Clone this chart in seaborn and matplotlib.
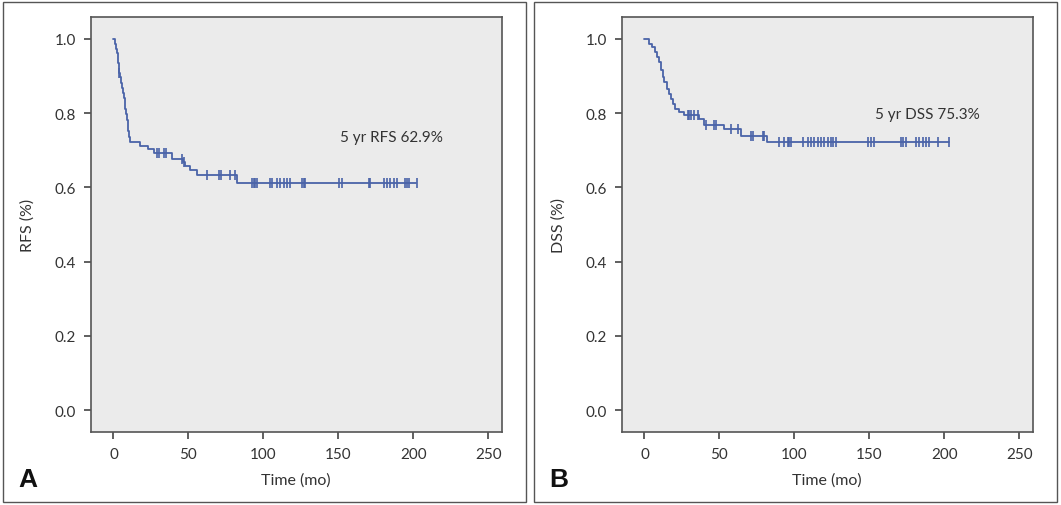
import numpy as np
import pandas as pd
import matplotlib.pyplot as plt
from matplotlib.patches import Rectangle
import seaborn as sns

# RFS (panel A): step times and survival after each step
rfs_time = [0, 0.7, 1.4, 2.1, 2.7, 3.2, 3.9, 4.6, 5.2, 5.8, 6.4, 6.9, 7.4, 7.9, 8.4,
            8.9, 9.4, 9.9, 10.4, 10.9, 17.5, 23, 27, 39, 46.5, 47.5, 51, 55.5, 82.5, 202]
rfs_surv = [1.0, 0.987, 0.974, 0.961, 0.948, 0.935, 0.909, 0.896, 0.882, 0.868, 0.854,
            0.840, 0.826, 0.812, 0.797, 0.782, 0.767, 0.752, 0.737, 0.723, 0.712, 0.703,
            0.692, 0.676, 0.668, 0.658, 0.647, 0.632, 0.611, 0.611]
rfs_cens = [4.0, 29, 30.2, 33.5, 35.3, 45.8, 47, 62.4, 70.2, 71.8, 78, 81.3,
            92.4, 93.6, 94.7, 95.8, 104.7, 105.8, 109, 111.3, 113.6, 115.8,
            118, 125.8, 126.9, 128, 150.2, 152.5, 170.2, 171.3, 180.2, 182.5,
            184.7, 186.9, 189.1, 194.7, 195.8, 196.9, 202.5]

# DSS (panel B)
dss_time = [0, 2.9, 5.1, 6.7, 8.2, 9.6, 11.1, 12.2, 13.3, 14.9, 16.2, 17.8, 18.9, 20.7,
            23.3, 26.7, 36.7, 40, 53.3, 64.4, 81.8, 203]
dss_surv = [1.0, 0.986, 0.977, 0.964, 0.95, 0.937, 0.915, 0.897, 0.883, 0.865, 0.852,
            0.838, 0.825, 0.811, 0.802, 0.795, 0.784, 0.768, 0.757, 0.739, 0.721, 0.721]
dss_cens = [28.9, 30, 31.1, 33.3, 35.5, 40.9, 46.5, 47.5, 57.8, 62.2, 71.1, 72.2,
            78.9, 80, 90, 93.3, 95.6, 96.7, 97.8, 105.6, 108.9, 111.1, 113.3, 115.6,
            117.8, 120, 122.2, 124.4, 125.6, 127.8, 148.9, 151.1, 153.3, 171.1,
            172.2, 174.4, 181.1, 183.3, 185.6, 187.8, 190, 195.6, 203.3]

panels = [
    ("A", "RFS (%)", "5 yr RFS 62.9%", (151, 0.736), rfs_time, rfs_surv, rfs_cens),
    ("B", "DSS (%)", "5 yr DSS 75.3%", (154, 0.798), dss_time, dss_surv, dss_cens),
]

sns.set_style("ticks")
plt.rcParams['font.family'] = ['Lato', 'DejaVu Sans']

line_col = "#4a63a8"
fig = plt.figure(figsize=(10.61, 5.06), dpi=100)

# outer frames, behind the axes
for x0 in [3 / 1061, 534 / 1061]:
    fig.patches.append(Rectangle((x0, 3 / 506), 523 / 1061, 500 / 506,
                                 transform=fig.transFigure, zorder=-1,
                                 facecolor="white", edgecolor="#555555", linewidth=1.0))

lefts = [91 / 1061, 622 / 1061]
for (letter, ylab, note, note_xy, t, s, cens), left in zip(panels, lefts):
    ax = fig.add_axes([left, 1 - 433 / 506, 0.3870, 0.8202])
    ax.set_facecolor("#ebebeb")
    df = pd.DataFrame({"time": t, "surv": s})
    sns.lineplot(data=df, x="time", y="surv", ax=ax, color=line_col, linewidth=1.3,
                 drawstyle="steps-post")
    idx = np.searchsorted(np.array(t), np.array(cens), side="right") - 1
    cdf = pd.DataFrame({"time": cens, "surv": np.array(s)[idx]})
    sns.scatterplot(data=cdf, x="time", y="surv", ax=ax, marker="|", s=45,
                    color=line_col, linewidth=1.2)
    ax.set_xlim(-15, 259)
    ax.set_ylim(-0.059, 1.059)
    ax.set_xticks([0, 50, 100, 150, 200, 250])
    ax.set_yticks([0.0, 0.2, 0.4, 0.6, 0.8, 1.0])
    ax.set_yticklabels(["0.0", "0.2", "0.4", "0.6", "0.8", "1.0"])
    ax.tick_params(direction="out", length=5, width=1.2, colors="#444444",
                   labelsize=11, pad=6, labelcolor="#333333")
    for sp in ax.spines.values():
        sp.set_visible(True)
        sp.set_color("#555555")
        sp.set_linewidth(1.2)
    ax.set_xlabel("Time (mo)", fontsize=11.5, color="#333333", labelpad=8)
    ax.set_ylabel(ylab, fontsize=11.5, color="#333333", labelpad=14)
    ax.text(note_xy[0], note_xy[1], note, fontsize=11, color="#333333", va="center")
    fig.text(left - 73 / 1061, 1 - 480 / 506, letter, fontsize=19, fontweight="bold",
             family=["Liberation Sans", "DejaVu Sans"],
             color="#111111", va="center", ha="left")

fig.savefig("out.png", dpi=100)
